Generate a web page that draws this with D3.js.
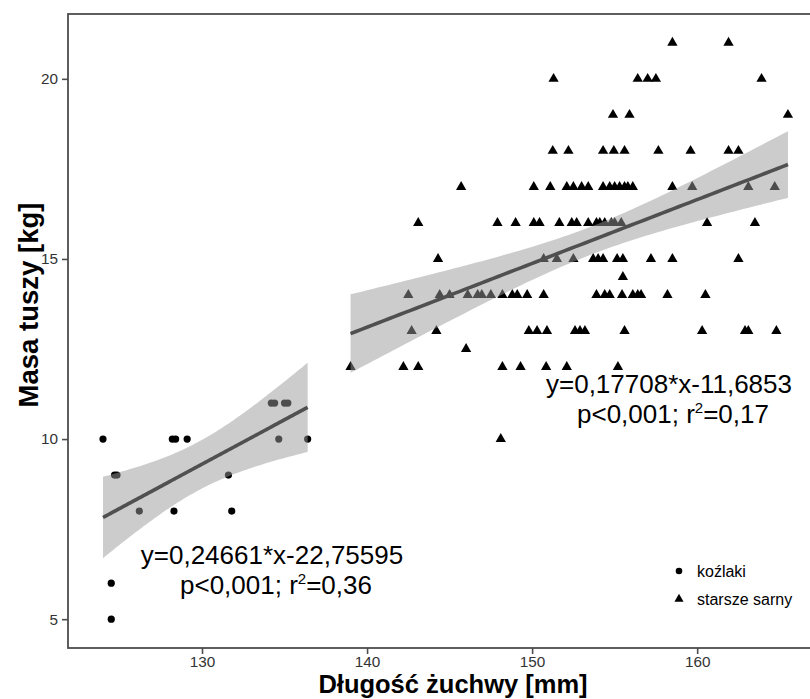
<!DOCTYPE html>
<html>
<head>
<meta charset="utf-8">
<script src="https://cdn.jsdelivr.net/npm/d3@7"></script>
<style>
body { margin: 0; background: #fff; }
svg { display: block; font-family: "Liberation Sans", Arial, sans-serif; }
</style>
</head>
<body>
<div class="svg-container"></div>
<script>
//Data
//koźlaki (kids): jaw length [mm], carcass mass [kg]
const kidLength = [124.0, 128.2, 128.4, 129.1, 134.65, 136.4, 134.2, 134.4, 135.0, 135.2, 124.7, 124.85, 131.6, 126.2, 128.3, 131.8, 124.5, 124.5];
const kidMass   = [10, 10, 10, 10, 10, 10, 11, 11, 11, 11, 9, 9, 9, 8, 8, 8, 6, 5];

//starsze sarny (older roe deer)
const adultLength = [
    158.5, 161.9,
    151.3, 156.4, 157.0, 157.5, 163.9,
    154.9, 155.9, 165.5,
    151.25, 152.2, 154.3, 154.95, 155.6, 157.65, 159.6, 161.9, 162.5,
    145.7, 150.1, 151.1, 152.1, 152.5, 153.0, 153.4, 154.3, 154.7, 155.0, 155.3, 155.6, 155.8, 156.1, 158.5, 159.7, 163.1, 164.7,
    143.1, 147.9, 149.0, 150.1, 150.45, 151.65, 152.4, 152.7, 153.4, 153.9, 154.1, 154.4, 154.8, 155.0, 155.4, 160.6, 163.5,
    144.3, 150.7, 151.5, 152.5, 153.7, 154.0, 154.3, 155.15, 155.5, 157.2, 158.5, 162.5,
    155.5,
    142.5, 144.4, 145.0, 146.1, 146.7, 146.95, 147.5, 148.2, 148.8, 149.1, 149.7, 150.7, 153.9, 154.4, 154.7, 155.45, 156.1, 156.4, 156.6, 158.2, 160.5,
    142.7, 144.2, 149.8, 150.3, 150.9, 152.6, 152.9, 153.2, 155.6, 160.3, 162.9, 163.1, 164.8,
    146.0,
    139.0, 142.2, 143.1, 148.2, 149.3, 150.85, 152.1, 155.2,
    148.1
];
const adultMass = [
    21, 21,
    20, 20, 20, 20, 20,
    19, 19, 19,
    18, 18, 18, 18, 18, 18, 18, 18, 18,
    17, 17, 17, 17, 17, 17, 17, 17, 17, 17, 17, 17, 17, 17, 17, 17, 17, 17,
    16, 16, 16, 16, 16, 16, 16, 16, 16, 16, 16, 16, 16, 16, 16, 16, 16,
    15, 15, 15, 15, 15, 15, 15, 15, 15, 15, 15, 15,
    14.5,
    14, 14, 14, 14, 14, 14, 14, 14, 14, 14, 14, 14, 14, 14, 14, 14, 14, 14, 14, 14, 14,
    13, 13, 13, 13, 13, 13, 13, 13, 13, 13, 13, 13, 13,
    12.5,
    12, 12, 12, 12, 12, 12, 12, 12,
    10
];

//fitted lines as printed on the chart: [slope, intercept]
const kidFit = [0.24661, -22.75595];
const adultFit = [0.17708, -11.6853];

const xTicks = [130, 140, 150, 160];
const yTicks = [5, 10, 15, 20];
const legendLabels = ['koźlaki', 'starsze sarny'];
const xTitle = 'Długość żuchwy [mm]';
const yTitle = 'Masa tuszy [kg]';

//t quantile (0.975) approximation
function tq(df) {
    const z = 1.959964;
    return z + (z ** 3 + z) / (4 * df) + (5 * z ** 5 + 16 * z ** 3 + 3 * z) / (96 * df * df);
}

//confidence band around a given line, like geom_smooth(method = 'lm')
function band(xs, ys, fit) {
    const n = xs.length;
    const mx = d3.mean(xs);
    const sxx = d3.sum(xs, x => (x - mx) ** 2);
    const rss = d3.sum(xs, (x, i) => (ys[i] - (fit[0] * x + fit[1])) ** 2);
    const s = Math.sqrt(rss / (n - 2));
    const t = tq(n - 2);
    const [lo, hi] = d3.extent(xs);
    return d3.range(81).map(i => {
        const x = lo + (hi - lo) * i / 80;
        const yhat = fit[0] * x + fit[1];
        const se = s * Math.sqrt(1 / n + (x - mx) ** 2 / sxx);
        return { x: x, y: yhat, y0: yhat - t * se, y1: yhat + t * se };
    });
}

const width = 810, height = 699;
const panel = { left: 68, right: 816, top: 14, bottom: 648 };

const xScale = d3.scaleLinear().domain([121.88, 167.2]).range([panel.left, panel.right]);
const yScale = d3.scaleLinear().domain([4.2, 21.8]).range([panel.bottom, panel.top]);

const svg = d3.select('.svg-container')
    .append('svg')
    .attr('width', width)
    .attr('height', height);

//points first, band goes over them
const tri = d3.symbol().type(d3.symbolTriangle).size(46);

svg.append('g')
    .attr('class', 'adult-points')
    .selectAll('path')
    .data(adultLength)
    .enter()
    .append('path')
    .attr('d', tri)
    .attr('transform', (d, i) => `translate(${xScale(d)},${yScale(adultMass[i])})`)
    .attr('fill', '#000');

svg.append('g')
    .attr('class', 'kid-points')
    .selectAll('circle')
    .data(kidLength)
    .enter()
    .append('circle')
    .attr('cx', d => xScale(d))
    .attr('cy', (d, i) => yScale(kidMass[i]))
    .attr('r', 3.6)
    .attr('fill', '#000');

//bands and lines
const area = d3.area().x(d => xScale(d.x)).y0(d => yScale(d.y0)).y1(d => yScale(d.y1));
const line = d3.line().x(d => xScale(d.x)).y(d => yScale(d.y));

[[kidLength, kidMass, kidFit], [adultLength, adultMass, adultFit]].forEach(g => {
    const b = band(g[0], g[1], g[2]);
    svg.append('path')
        .attr('d', area(b))
        .attr('fill', '#999')
        .attr('fill-opacity', 0.5);
    svg.append('path')
        .attr('d', line(b))
        .attr('fill', 'none')
        .attr('stroke', '#505050')
        .attr('stroke-width', 3.6);
});

//panel border
svg.append('rect')
    .attr('x', panel.left)
    .attr('y', panel.top)
    .attr('width', panel.right - panel.left)
    .attr('height', panel.bottom - panel.top)
    .attr('fill', 'none')
    .attr('stroke', '#4d4d4d')
    .attr('stroke-width', 1.8);

//axes
const yAxis = d3.axisLeft(yScale).tickValues(yTicks).tickSize(6).tickPadding(4);
const xAxis = d3.axisBottom(xScale).tickValues(xTicks).tickSize(6).tickPadding(2);

svg.append('g')
    .attr('class', 'y axis')
    .attr('transform', `translate(${panel.left},0)`)
    .call(yAxis)
    .call(g => g.select('.domain').remove());

svg.append('g')
    .attr('class', 'x axis')
    .attr('transform', `translate(0,${panel.bottom})`)
    .call(xAxis)
    .call(g => g.select('.domain').remove());

svg.selectAll('.axis .tick line').attr('stroke', '#4d4d4d').attr('stroke-width', 1.6);
svg.selectAll('.axis .tick text')
    .attr('fill', '#333')
    .style('font-size', '15.3px')
    .style('font-family', '"Liberation Sans", Arial, sans-serif');

//axis titles
svg.append('text')
    .attr('x', 453)
    .attr('y', 693)
    .attr('text-anchor', 'middle')
    .style('font-size', '25.5px')
    .style('font-weight', 'bold')
    .text(xTitle);

svg.append('text')
    .attr('transform', 'translate(38,305) rotate(-90)')
    .attr('text-anchor', 'middle')
    .style('font-size', '27.5px')
    .style('font-weight', 'bold')
    .text(yTitle);

//equations
function equation(x, y, eq, r2) {
    svg.append('text')
        .attr('x', x).attr('y', y)
        .attr('text-anchor', 'middle')
        .style('font-size', '26px')
        .text(eq);
    const t = svg.append('text')
        .attr('x', x + 4).attr('y', y + 30)
        .attr('text-anchor', 'middle')
        .style('font-size', '26px');
    t.append('tspan').text('p<0,001; r');
    t.append('tspan').attr('dy', -10).style('font-size', '15px').text('2');
    t.append('tspan').attr('dy', 10).text('=' + r2);
}

equation(669, 393, 'y=0,17708*x-11,6853', '0,17');
equation(272, 564, 'y=0,24661*x-22,75595', '0,36');

//legend
const legend = svg.append('g').attr('class', 'legend');
legend.append('circle').attr('cx', 679).attr('cy', 571).attr('r', 3.3).attr('fill', '#000');
legend.append('path')
    .attr('d', d3.symbol().type(d3.symbolTriangle).size(36))
    .attr('transform', 'translate(679,599)')
    .attr('fill', '#000');
legend.selectAll('text')
    .data(legendLabels)
    .enter()
    .append('text')
    .attr('x', 697)
    .attr('y', (d, i) => 577 + i * 28)
    .style('font-size', '16px')
    .text(d => d);
</script>
</body>
</html>
